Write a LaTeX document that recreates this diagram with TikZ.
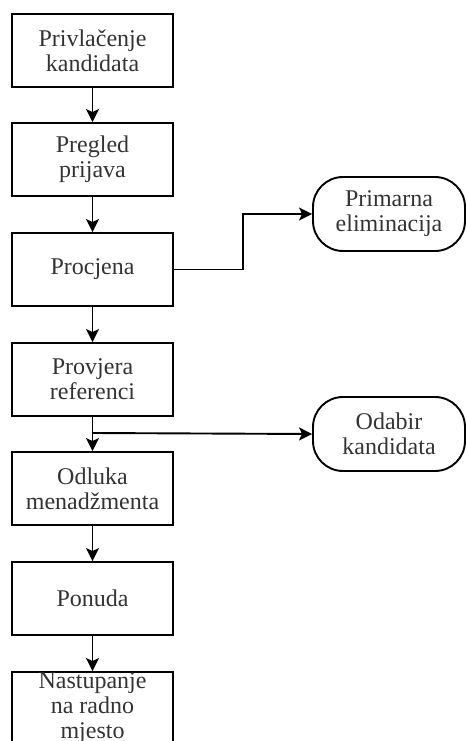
\documentclass[tikz,border=0pt]{standalone}
\usepackage{fontspec}
\setmainfont{Liberation Serif}
\usetikzlibrary{arrows.meta}
\begin{document}
\begin{tikzpicture}[x=1pt,y=-1pt,
  every node/.style={font=\fontsize{24}{25}\selectfont, align=center, text=black!80},
  procbox/.style={draw=black, line width=1.9pt, minimum width=161pt, minimum height=73pt, inner sep=0pt},
  termbox/.style={draw=black, line width=1.9pt, rounded corners=30pt, minimum width=152pt, minimum height=74pt, inner sep=0pt},
  flow/.style={line width=1.9pt, -{Stealth[length=13pt,width=13pt,inset=3pt]}}]
\useasboundingbox (0,0) rectangle (466,741);
\node[procbox] (a) at (92.5,50.5) {Privlačenje\\kandidata};
\node[procbox] (b) at (92.5,159.5) {Pregled\\prijava};
\node[procbox] (c) at (92.5,269.5) {Procjena};
\node[procbox] (d) at (92.5,379.5) {Provjera\\referenci};
\node[procbox] (e) at (92.5,488.5) {Odluka\\menadžmenta};
\node[procbox] (f) at (92.5,598.5) {Ponuda};
\node[procbox] (g) at (92.5,708.5) {Nastupanje\\na radno\\mjesto};
\node[termbox] (t1) at (389,214) {Primarna\\eliminacija};
\node[termbox] (t2) at (389,434) {Odabir\\kandidata};
\coordinate (bend) at (243,269.5);
\coordinate (split) at (92.5,433);
\draw[flow] (a) -- (b);
\draw[flow] (b) -- (c);
\draw[flow] (c) -- (d);
\draw[flow] (d) -- (e);
\draw[flow] (e) -- (f);
\draw[flow] (f) -- (g);
\draw[flow] (c.east) -- (bend) |- (t1.west);
\draw[flow] (split) -- (t2.west);
\end{tikzpicture}
\end{document}
